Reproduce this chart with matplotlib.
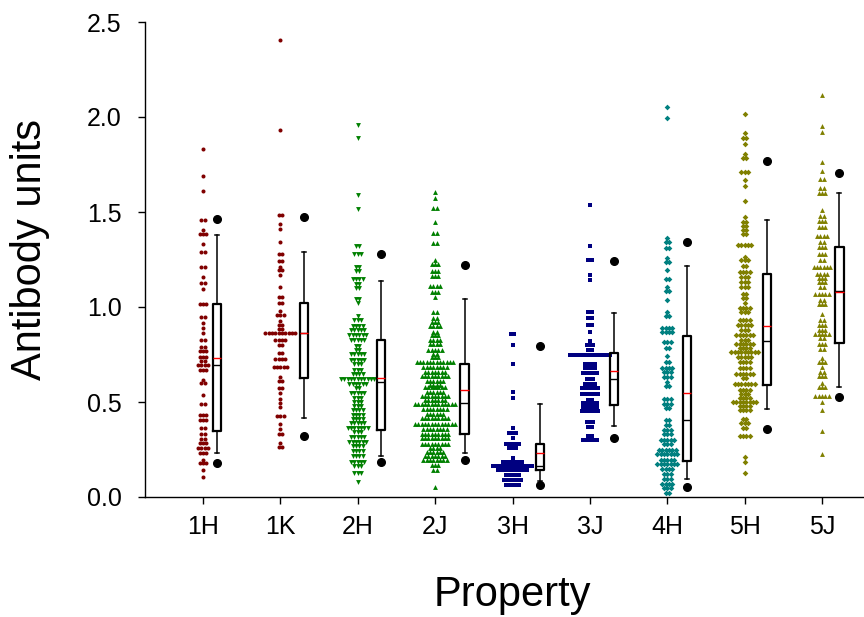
import numpy as np
import matplotlib
matplotlib.use("Agg")
import matplotlib.pyplot as plt

plt.rcParams['font.family'] = ['Liberation Sans', 'DejaVu Sans']

categories = ['1H', '1K', '2H', '2J', '3H', '3J', '4H', '5H', '5J']

# ---- swarm data: value of each row and number of points in that row ----
lv_1H = [1.83, 1.69, 1.61, 1.456, 1.405, 1.384, 1.33, 1.29, 1.21, 1.156, 1.128, 1.096, 1.016,
         0.946, 0.917, 0.891, 0.865, 0.826, 0.791, 0.767, 0.738, 0.714, 0.693, 0.668, 0.616,
         0.598, 0.538, 0.489, 0.433, 0.405, 0.363, 0.332, 0.304, 0.283, 0.258, 0.233, 0.195,
         0.177, 0.142, 0.104]
ct_1H = [1, 1, 1, 2, 1, 3, 1, 2, 2, 1, 2, 1, 3, 2, 1, 1, 1, 2, 2, 3, 3, 2, 4, 3, 1, 2, 1, 2,
         3, 3, 2, 2, 2, 3, 4, 3, 1, 3, 1, 1]

lv_1K = [2.405, 1.93, 1.483, 1.437, 1.412, 1.344, 1.279, 1.24, 1.212, 1.195, 1.167, 1.105,
         1.054, 1.023, 0.981, 0.956, 0.925, 0.904, 0.886, 0.865, 0.826, 0.802, 0.756, 0.726,
         0.686, 0.633, 0.609, 0.574, 0.546, 0.518, 0.496, 0.472, 0.426, 0.384, 0.36, 0.332,
         0.286, 0.261]
ct_1K = [1, 1, 2, 1, 1, 1, 2, 2, 1, 2, 1, 1, 2, 2, 1, 3, 1, 2, 2, 10, 4, 2, 2, 4, 5, 1, 2, 2,
         1, 1, 1, 1, 3, 1, 1, 2, 1, 2]

lv_2H = [1.958, 1.888, 1.589, 1.514, 1.323, 1.277, 1.212, 1.189, 1.147, 1.119, 1.098, 1.042,
         1.019, 0.951, 0.933, 0.902, 0.877, 0.853, 0.825, 0.797, 0.772, 0.751, 0.723, 0.698,
         0.670, 0.646, 0.621, 0.596, 0.572, 0.547, 0.523, 0.502, 0.481, 0.456, 0.432, 0.411,
         0.389, 0.365, 0.340, 0.316, 0.291, 0.267, 0.242, 0.214, 0.186, 0.161, 0.125, 0.081]
ct_2H = [1, 1, 1, 1, 2, 3, 2, 2, 4, 2, 2, 2, 1, 1, 3, 4, 5, 6, 5, 2, 2, 5, 5, 3, 3, 4, 11, 6,
         2, 5, 3, 3, 3, 4, 4, 4, 5, 7, 3, 5, 6, 4, 4, 4, 5, 3, 3, 1]

lv_2J = [1.603, 1.572, 1.523, 1.446, 1.391, 1.339, 1.249, 1.225, 1.189, 1.161, 1.112, 1.081,
         1.053, 0.975, 0.944, 0.919, 0.898, 0.870, 0.853, 0.828, 0.804, 0.775, 0.751, 0.737,
         0.709, 0.684, 0.660, 0.635, 0.611, 0.589, 0.579, 0.554, 0.530, 0.509, 0.488, 0.463,
         0.439, 0.414, 0.383, 0.358, 0.333, 0.309, 0.281, 0.256, 0.235, 0.214, 0.193, 0.168,
         0.140, 0.053]
ct_2J = [1, 1, 2, 1, 2, 2, 1, 3, 3, 3, 4, 3, 1, 2, 2, 3, 4, 2, 3, 4, 4, 5, 2, 3, 12, 8, 7, 9,
         6, 4, 7, 6, 9, 7, 13, 8, 6, 9, 13, 8, 9, 9, 9, 4, 6, 7, 8, 3, 2, 1]

lv_3H = [0.860, 0.800, 0.700, 0.554, 0.523, 0.365, 0.337, 0.309, 0.281, 0.256, 0.207, 0.186,
         0.165, 0.144, 0.116, 0.091, 0.063]
ct_3H = [2, 1, 1, 1, 1, 1, 3, 1, 5, 3, 1, 7, 13, 10, 5, 6, 5]

lv_3J = [1.537, 1.321, 1.247, 1.168, 1.140, 0.974, 0.940, 0.907, 0.867, 0.821, 0.800, 0.775,
         0.749, 0.702, 0.681, 0.653, 0.621, 0.596, 0.575, 0.544, 0.512, 0.495, 0.474, 0.453,
         0.396, 0.368, 0.323, 0.302]
ct_3J = [1, 1, 2, 1, 1, 2, 2, 2, 1, 1, 3, 2, 13, 4, 4, 5, 3, 4, 6, 6, 2, 5, 5, 6, 3, 2, 2, 5]

lv_4H = [2.054, 1.993, 1.365, 1.344, 1.312, 1.256, 1.235, 1.193, 1.147, 1.105, 1.084, 1.035,
         0.972, 0.951, 0.891, 0.867, 0.814, 0.786, 0.744, 0.709, 0.681, 0.656, 0.632, 0.604,
         0.586, 0.516, 0.488, 0.467, 0.404, 0.379, 0.354, 0.330, 0.302, 0.277, 0.249, 0.225,
         0.196, 0.172, 0.147, 0.119, 0.095, 0.067, 0.049, 0.021]
ct_4H = [1, 1, 1, 2, 2, 1, 2, 1, 2, 1, 2, 1, 1, 2, 4, 4, 3, 2, 1, 2, 4, 3, 3, 1, 2, 3, 3, 2,
         2, 2, 3, 3, 5, 3, 6, 7, 5, 7, 4, 3, 3, 4, 3, 2]

lv_5H = [2.016, 1.916, 1.891, 1.856, 1.803, 1.782, 1.712, 1.667, 1.635, 1.558, 1.474, 1.449,
         1.428, 1.407, 1.383, 1.326, 1.263, 1.246, 1.214, 1.186, 1.158, 1.133, 1.105, 1.067,
         1.049, 1.021, 0.993, 0.972, 0.933, 0.905, 0.877, 0.853, 0.828, 0.807, 0.786, 0.761,
         0.737, 0.712, 0.681, 0.649, 0.625, 0.596, 0.565, 0.540, 0.519, 0.498, 0.477, 0.456,
         0.411, 0.389, 0.361, 0.323, 0.211, 0.182, 0.126]
ct_5H = [1, 1, 2, 1, 1, 2, 3, 1, 1, 1, 1, 2, 2, 2, 2, 5, 1, 3, 2, 4, 3, 3, 3, 2, 2, 1, 4, 3,
         4, 5, 3, 6, 3, 6, 4, 9, 5, 4, 4, 6, 2, 7, 4, 3, 4, 8, 4, 4, 2, 3, 2, 4, 1, 1, 1]

lv_5J = [2.116, 1.954, 1.923, 1.761, 1.716, 1.674, 1.628, 1.600, 1.512, 1.477, 1.453, 1.421,
         1.375, 1.344, 1.316, 1.281, 1.246, 1.211, 1.175, 1.154, 1.133, 1.105, 1.070, 1.035,
         1.014, 0.965, 0.930, 0.905, 0.877, 0.856, 0.835, 0.804, 0.779, 0.733, 0.712, 0.684,
         0.656, 0.635, 0.600, 0.579, 0.533, 0.502, 0.456, 0.347, 0.225]
ct_5J = [1, 1, 1, 1, 1, 2, 2, 3, 1, 2, 3, 3, 4, 2, 3, 3, 2, 6, 4, 3, 3, 2, 5, 2, 3, 1, 2, 3,
         3, 5, 2, 3, 2, 1, 3, 1, 2, 3, 1, 3, 5, 1, 1, 1, 1]

levels = [lv_1H, lv_1K, lv_2H, lv_2J, lv_3H, lv_3J, lv_4H, lv_5H, lv_5J]
counts = [ct_1H, ct_1K, ct_2H, ct_2J, ct_3H, ct_3J, ct_4H, ct_5H, ct_5J]

# ---- box statistics (whiskers 10th/90th, dots 5th/95th percentiles) ----
box_p5 = [0.177, 0.321, 0.183, 0.193, 0.061, 0.311, 0.054, 0.358, 0.526]
box_p10 = [0.233, 0.418, 0.214, 0.233, 0.086, 0.375, 0.093, 0.461, 0.579]
box_q1 = [0.349, 0.626, 0.351, 0.333, 0.140, 0.486, 0.191, 0.589, 0.812]
box_med = [0.696, 0.862, 0.607, 0.495, 0.165, 0.621, 0.405, 0.819, 1.085]
box_q3 = [1.016, 1.021, 0.826, 0.700, 0.279, 0.758, 0.847, 1.172, 1.316]
box_p90 = [1.380, 1.288, 1.139, 1.042, 0.491, 0.970, 1.218, 1.460, 1.602]
box_p95 = [1.465, 1.475, 1.277, 1.221, 0.793, 1.244, 1.340, 1.768, 1.707]
box_mean = [0.730, 0.861, 0.625, 0.565, 0.232, 0.661, 0.546, 0.902, 1.081]

# ---- styling / layout ----
colors = ['#800000', '#800000', '#008000', '#008000', '#000080', '#000080',
          '#008080', '#808000', '#808000']
markers = ['o', 'o', 'v', '^', 's', 's', 'D', 'D', '^']
msizes = [2.9, 2.9, 3.5, 3.5, 2.8, 2.8, 2.9, 2.9, 3.5]
box_offsets = [0.18, 0.305, 0.304, 0.38, 0.36, 0.307, 0.26, 0.285, 0.226]
dx = 0.043

fig = plt.figure(figsize=(8.64, 6.17), dpi=100)
# the plotting area runs slightly past the right edge of the picture
ax = fig.add_axes([145 / 864, (617 - 497) / 617, (880 - 145) / 864, 475 / 617])

for i, (lv, ct) in enumerate(zip(levels, counts)):
    vals = np.repeat(lv, ct)
    xs = []
    ys = []
    for v in np.unique(vals):
        n = int(np.sum(vals == v))
        offs = (np.arange(n) - (n - 1) / 2) * dx
        xs.extend(i + 1 + offs)
        ys.extend([v] * n)
    ax.plot(xs, ys, linestyle='none', marker=markers[i], markersize=msizes[i],
            color=colors[i], markeredgewidth=0, zorder=3)

stats = []
for i in range(len(categories)):
    stats.append(dict(med=box_med[i], q1=box_q1[i], q3=box_q3[i], whislo=box_p10[i],
                      whishi=box_p90[i], mean=box_mean[i], fliers=[box_p5[i], box_p95[i]]))
positions = [i + 1 + box_offsets[i] for i in range(len(categories))]
ax.bxp(stats, positions=positions, widths=0.105, showmeans=True, meanline=True,
       showfliers=True, manage_ticks=False,
       boxprops=dict(color='black', linewidth=1.6),
       medianprops=dict(color='black', linewidth=1.0),
       meanprops=dict(color='red', linewidth=1.0, linestyle='-'),
       whiskerprops=dict(color='black', linewidth=1.1),
       capprops=dict(color='black', linewidth=1.1),
       flierprops=dict(marker='o', markerfacecolor='black', markeredgecolor='black',
                       markersize=5.5),
       zorder=4)

ax.set_xlim(0.25, 9.75)
ax.set_ylim(0, 2.5)
ax.set_xticks(range(1, len(categories) + 1))
ax.set_xticklabels(categories)
ax.set_yticks([0.0, 0.5, 1.0, 1.5, 2.0, 2.5])
ax.set_yticklabels(['0.0', '0.5', '1.0', '1.5', '2.0', '2.5'])
ax.spines['top'].set_visible(False)
ax.spines['right'].set_visible(False)
for s in ['left', 'bottom']:
    ax.spines[s].set_linewidth(1.0)
ax.tick_params(axis='both', direction='out', length=5, width=1.0, labelsize=18)
ax.tick_params(axis='y', pad=12)
ax.tick_params(axis='x', pad=8)
ax.set_ylabel('Antibody units', fontsize=30, labelpad=20)
ax.yaxis.set_label_coords(-0.129, 0.52)
ax.set_xlabel('Property', fontsize=30, labelpad=26)

fig.savefig('out.png', dpi=100)
